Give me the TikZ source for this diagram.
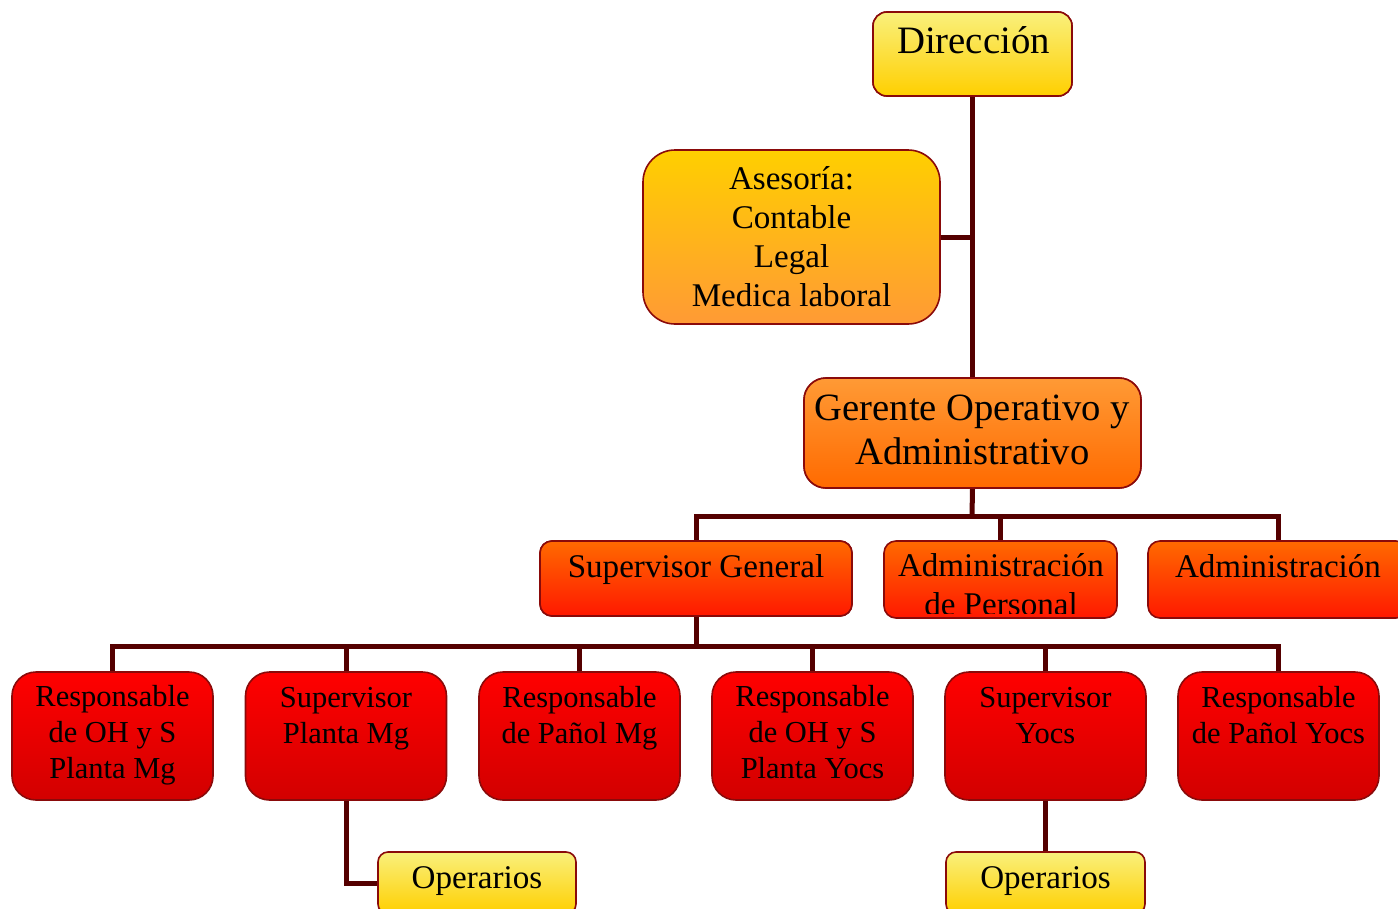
\documentclass[tikz,border=0pt]{standalone}
\usepackage{fontspec}
\setmainfont{Liberation Serif}
\definecolor{lnk}{HTML}{550000}
\definecolor{edge}{HTML}{8A0A0A}
\definecolor{yA}{HTML}{F9F07C}
\definecolor{yB}{HTML}{FFCF00}
\definecolor{oA}{HTML}{FF9A35}
\definecolor{oB}{HTML}{FF6A00}
\definecolor{rA}{HTML}{FF1800}
\definecolor{rB}{HTML}{FF0000}
\definecolor{rC}{HTML}{D20000}
\newcommand\fszDir{\fontsize{38.8}{44}\selectfont}
\newcommand\fszMid{\fontsize{33.1}{38.9}\selectfont}
\newcommand\fszLow{\fontsize{30.5}{35.7}\selectfont}
\tikzset{
  x=1pt, y=-1pt,
  conn/.style={draw=lnk, line width=5pt},
  boxbase/.style={draw=edge, line width=1.6pt, inner sep=0pt, rectangle},
  yelbox/.style={boxbase, top color=yA, bottom color=yB},
  asbox/.style={boxbase, top color=yB, bottom color=oA},
  gerbox/.style={boxbase, top color=oA, bottom color=oB},
  supbox/.style={boxbase, top color=oB, bottom color=rA},
  lowbox/.style={boxbase, top color=rB, bottom color=rC, rounded corners=24pt, minimum width=201pt, minimum height=128pt},
  txt/.style={inner sep=0pt, align=center, anchor=base, text=black},
}
\begin{document}
\begin{tikzpicture}
\useasboundingbox (0,0) rectangle (1398,908);
\clip (0,0) rectangle (1398,908);

% boxes
\node[yelbox, rounded corners=14pt, minimum width=199pt, minimum height=84pt] (dir) at (972.5,54) {};
\node[asbox, rounded corners=32pt, minimum width=297pt, minimum height=174pt] (ases) at (791.5,237) {};
\node[gerbox, rounded corners=22pt, minimum width=337pt, minimum height=110pt] (ger) at (972.5,433) {};
\node[supbox, rounded corners=12pt, minimum width=312pt, minimum height=75pt] (sg) at (696,578.5) {};
\node[supbox, rounded corners=12pt, minimum width=233pt, minimum height=77pt] (admp) at (1000.5,579.5) {};
\node[supbox, rounded corners=12pt, minimum width=260pt, minimum height=77pt] (adm) at (1278,579.5) {};
\node[lowbox] (r1) at (112.5,736) {};
\node[lowbox] (r2) at (346,736) {};
\node[lowbox] (r3) at (579.5,736) {};
\node[lowbox] (r4) at (812.5,736) {};
\node[lowbox] (r5) at (1045.5,736) {};
\node[lowbox] (r6) at (1278.5,736) {};
\node[yelbox, rounded corners=10pt, minimum width=198pt, minimum height=62pt] (op1) at (477,883) {};
\node[yelbox, rounded corners=10pt, minimum width=199pt, minimum height=62pt] (op2) at (1045.5,883) {};

% junction points
\coordinate (j1) at (972,516);
\coordinate (j2) at (696,646);

% connectors
\draw[conn] (dir.south) -- (ger.north);
\draw[conn] (ases.east) -- (ases.east -| dir.south);
\draw[conn] (ger.south) -- (j1);
\draw[conn] (sg.north) |- (j1) -| (adm.north);
\draw[conn] (admp.north) -- (admp.north |- j1);
\draw[conn] (sg.south) -- (j2);
\draw[conn] (r1.north) |- (j2) -| (r6.north);
\draw[conn] (r2.north) -- (r2.north |- j2);
\draw[conn] (r3.north) -- (r3.north |- j2);
\draw[conn] (r4.north) -- (r4.north |- j2);
\draw[conn] (r5.north) -- (r5.north |- j2);
\draw[conn] (r2.south) |- (op1.west);
\draw[conn] (r5.south) -- (op2.north);

% redraw boxes over connector ends
\node[yelbox, rounded corners=14pt, minimum width=199pt, minimum height=84pt] at (dir) {};
\node[gerbox, rounded corners=22pt, minimum width=337pt, minimum height=110pt] at (ger) {};
\node[supbox, rounded corners=12pt, minimum width=312pt, minimum height=75pt] at (sg) {};

% texts (anchor=base is the baseline of the last line)
\node[txt, font=\fszDir] (tdir) at (973.5,53) {Dirección};
\node[txt, font=\fszMid] (tases) at (791.5,306) {Asesoría:\\Contable\\Legal\\Medica laboral};
\node[txt, font=\fontsize{38.6}{44}\selectfont] (tger) at (972.5,464) {Gerente Operativo y\\Administrativo};
\node[txt, font=\fszMid] (tsg) at (696,577) {Supervisor General};
\begin{scope}
\clip (admp.north west) rectangle ([yshift=5pt]admp.south east);
\node[txt, font=\fontsize{33.1}{39}\selectfont] (tadmp) at (1001,615) {Administración\\de Personal};
\end{scope}
\node[txt, font=\fszMid] (tadm) at (1278,577) {Administración};
\node[txt, font=\fszLow] (t1) at (112.5,778) {Responsable\\de OH y S\\Planta Mg};
\node[txt, font=\fszLow] (t2) at (346,743) {Supervisor\\Planta Mg};
\node[txt, font=\fszLow] (t3) at (579.5,743) {Responsable\\de Pañol Mg};
\node[txt, font=\fszLow] (t4) at (812.5,778) {Responsable\\de OH y S\\Planta Yocs};
\node[txt, font=\fszLow] (t5) at (1045.5,743) {Supervisor\\Yocs};
\node[txt, font=\fszLow] (t6) at (1278.5,743) {Responsable\\de Pañol Yocs};
\node[txt, font=\fszMid] (to1) at (477,888) {Operarios};
\node[txt, font=\fszMid] (to2) at (1045.5,888) {Operarios};
\end{tikzpicture}
\end{document}
